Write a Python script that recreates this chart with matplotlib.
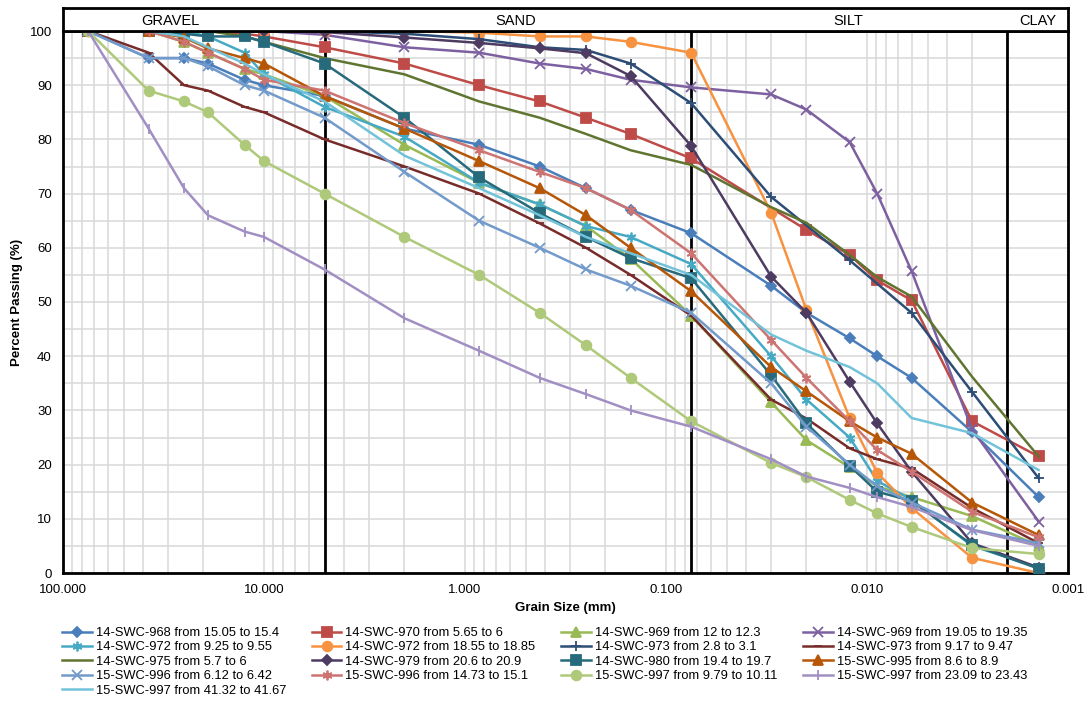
import numpy as np
import matplotlib
matplotlib.use('Agg')
import matplotlib.pyplot as plt
from matplotlib.ticker import FixedLocator, LogLocator, NullFormatter, FuncFormatter

plt.rcParams['font.family'] = ['Liberation Sans', 'DejaVu Sans']

# sieve sizes, then hydrometer diameters (mm)
sieve_mm = [75, 37.5, 25, 19, 12.5, 10, 5, 2.0, 0.85, 0.425, 0.25, 0.15, 0.075]
hydro_mm = [0.030, 0.020, 0.0122, 0.0089, 0.0060, 0.0030, 0.0014]
grain_mm = sieve_mm + hydro_mm
nan = np.nan

# percent passing for each sample (same order as grain_mm)
s968 = [100, 95, 95, 94, 91, 90, 88, 82, 79, 75, 71, 67, 62.7, 53, 48, 43.3, 40, 36, 26, 14]
s970 = [100, 100, 100, 100, 99.5, 99, 97, 94, 90, 87, 84, 81, 76.5, nan, 63.3, 58.7, 54, 50.3, 28, 21.5]
s969a = [100, 100, 98, 96, 93, 92, 88, 79, 72, 68, 64, 58, 47.5, 31.5, 24.5, 19.5, 16, 14, 10.5, 5]
s969b = [100, 100, 100, 100, 100, 100, 99.3, 97, 96, 94, 93, 91, 89.6, 88.3, 85.5, 79.5, 70, 55.7, 26.5, 9.5]
s972a = [100, 100, 100, 99, 96, 92, 86, 80.5, 72, 68, 64, 62, 57, 40, 32, 25, 17, 13.5, 5, 1]
s972b = [100, 100, 100, 100, 100, 100, 100, 100, 99.7, 99, 99, 98, 96, 66.5, 48.5, 28.6, 18.5, 12, 2.8, 0]
s973a = [100, 100, 100, 100, 100, 100, 100, 99.5, 98.5, 97, 96.5, 94, 86.7, 69.4, nan, 57.7, nan, 48, 33.4, 17.5]
s973b = [100, 96, 90, 89, 86, 85, 80, 75, 70, 64.5, 60, 55, 47.5, 32, 28.5, 23, 21, 19.3, 12, 5.5]
s975 = [100, 100, 100, 100, 99, 98, 95, 92, 87, 84, 81, 78, 75.3, 67.5, 64.6, 58.7, 54.6, 51, 36.2, 21.5]
s979 = [100, 100, 100, 100, 100, 100, 99.8, 98.8, 97.8, 96.8, 95.9, 91.7, 78.8, 54.7, 48, 35.3, 27.6, 18.7, 5.5, 1]
s980 = [100, 100, 99.5, 99, 99, 98, 94, 84, 73, 66.4, 62, 58.1, 54.4, 36.5, 27.6, 19.8, 15, 13.3, 5.2, 0.8]
s995 = [100, 100, 98.8, 96.8, 95, 94, 88, 82, 76, 71, 66, 60, 52, 38, 33.5, 28, 25, 22, 13, 7]
s996a = [100, 95, 95, 93.5, 90, 89, 84, 74, 65, 60, 56, 53, 48, 35, 27, 20, 16, 13, 8, 5.5]
s996b = [100, 100, 98, 96, 93, 91, 89, 83, 78, 74, 71, 67, 59, 43, 36, 28, 22.7, 18.7, 11.3, 6.6]
s997a = [100, 89, 87, 85, 79, 76, 70, 62, 55, 48, 42, 36, 28, 20.3, 17.7, 13.5, 11, 8.5, 4.6, 3.5]
s997b = [100, 82, 71, 66, 63, 62, 56, 47, 41, 36, 33, 30, 27, 21, 17.8, 15.7, 14, 12.2, 7.9, 5]
s997c = [100, 100, 99, 97, 94, 92, 87, 77, 71, 66, 62, 59, 55, 44, 41, 38, 35, 28.6, 25.8, 19]

labels = [
    '14-SWC-968 from 15.05 to 15.4', '14-SWC-970 from 5.65 to 6',
    '14-SWC-969 from 12 to 12.3', '14-SWC-969 from 19.05 to 19.35',
    '14-SWC-972 from 9.25 to 9.55', '14-SWC-972 from 18.55 to 18.85',
    '14-SWC-973 from 2.8 to 3.1', '14-SWC-973 from 9.17 to 9.47',
    '14-SWC-975 from 5.7 to 6', '14-SWC-979 from 20.6 to 20.9',
    '14-SWC-980 from 19.4 to 19.7', '15-SWC-995 from 8.6 to 8.9',
    '15-SWC-996 from 6.12 to 6.42', '15-SWC-996 from 14.73 to 15.1',
    '15-SWC-997 from 9.79 to 10.11', '15-SWC-997 from 23.09 to 23.43',
    '15-SWC-997 from 41.32 to 41.67',
]
series = [s968, s970, s969a, s969b, s972a, s972b, s973a, s973b, s975,
          s979, s980, s995, s996a, s996b, s997a, s997b, s997c]

asterisk = (6, 2, 0)
colors = ['#4a7ebb', '#be4b48', '#98b954', '#7d60a0', '#46aac5', '#f69240',
          '#2c4d75', '#772c2a', '#5f7530', '#4d3b62', '#276a7c', '#b65708',
          '#729aca', '#cd7371', '#afc97a', '#a18fc3', '#72c3da']
markers = ['D', 's', '^', 'x', asterisk, 'o', '+', '_', None, 'D', 's', '^',
           'x', asterisk, 'o', '|', None]
msizes = [5, 7, 7, 7, 7, 7, 7, 6, 0, 5, 7, 7, 7, 7, 7, 7, 0]

fig = plt.figure(figsize=(10.9, 7.06), dpi=100)
ax = fig.add_axes([63 / 1090, 133 / 706, 1005 / 1090, 542 / 706])
hdr = fig.add_axes([63 / 1090, 675 / 706, 1005 / 1090, 23 / 706])

x = np.array(grain_mm)
handles = []
for vals, lab, c, m, ms in zip(series, labels, colors, markers, msizes):
    v = np.array(vals, dtype=float)
    ok = ~np.isnan(v)
    h, = ax.plot(x[ok], v[ok], color=c, lw=1.8, marker=m, ms=ms,
                 mfc=c, mec=c, mew=1.3, label=lab, zorder=3)
    handles.append(h)

ax.set_xscale('log')
ax.set_xlim(100, 0.001)
ax.set_ylim(0, 100)
ax.set_yticks(range(0, 101, 10))
ax.yaxis.set_minor_locator(FixedLocator(range(5, 100, 10)))
ax.xaxis.set_major_locator(FixedLocator([100, 10, 1, 0.1, 0.01, 0.001]))
ax.xaxis.set_major_formatter(FuncFormatter(lambda v, p: f'{v:.3f}'))
ax.xaxis.set_minor_locator(LogLocator(base=10, subs=np.arange(2, 10)))
ax.xaxis.set_minor_formatter(NullFormatter())
ax.grid(which='both', color='#d9d9d9', lw=1.1)
ax.set_axisbelow(True)
ax.tick_params(which='both', length=0, labelsize=9.5, pad=8)

# soil class boundaries
for d in [5, 0.075, 0.002]:
    ax.axvline(d, color='black', lw=2, zorder=2)
for s in ax.spines.values():
    s.set_linewidth(2)

ax.set_xlabel('Grain Size (mm)', fontsize=9.5, fontweight='bold', labelpad=4)
ax.set_ylabel('Percent Passing (%)', fontsize=9.5, fontweight='bold', labelpad=5)

# header strip with soil class names
hdr.set_xticks([])
hdr.set_yticks([])
for s in hdr.spines.values():
    s.set_linewidth(2)
for name, xp in [('GRAVEL', 0.107), ('SAND', 0.450), ('SILT', 0.781), ('CLAY', 0.970)]:
    hdr.text(xp, 0.45, name, ha='center', va='center', fontsize=10.5, transform=hdr.transAxes)

# legend: Excel fills row by row, matplotlib column by column
order = [0, 4, 8, 12, 16, 1, 5, 9, 13, 2, 6, 10, 14, 3, 7, 11, 15]
fig.legend([handles[i] for i in order], [labels[i] for i in order],
           loc='upper left', bbox_to_anchor=(62 / 1090, 1 - 627 / 706), ncol=4,
           frameon=False, fontsize=9.3, handlelength=2.3, handletextpad=0.3,
           columnspacing=2.0, labelspacing=0.18, borderaxespad=0, borderpad=0)

fig.savefig('out.png', dpi=100)
